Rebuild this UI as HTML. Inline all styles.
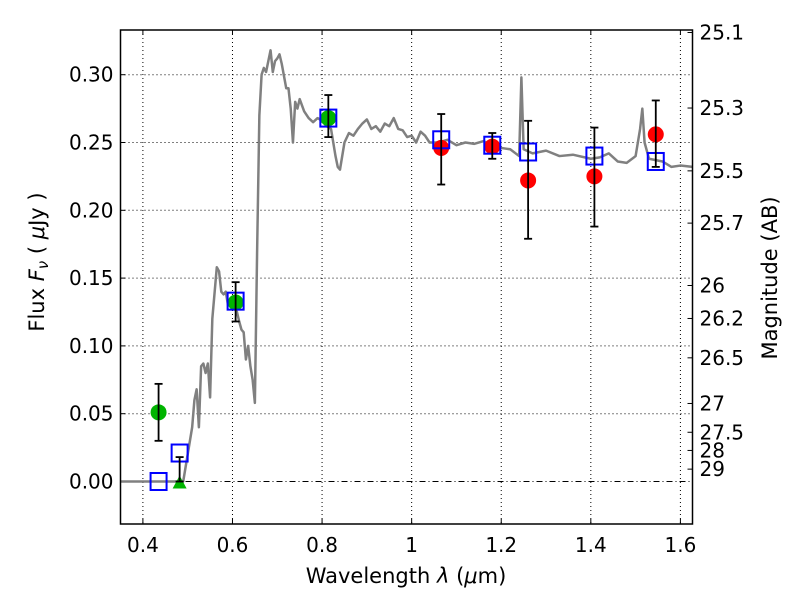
<!DOCTYPE html>
<html><head><meta charset="utf-8"><style>
body{margin:0;background:#fff}
svg text{font-family:"DejaVu Sans","Liberation Sans",sans-serif;fill:#000}
</style></head><body>
<svg id="c" width="800" height="600" viewBox="0 0 800 600" xmlns="http://www.w3.org/2000/svg"></svg>
<script>
const specX=[0.35,0.49,0.50,0.51,0.515,0.52,0.525,0.53,0.535,0.54,0.545,0.55,0.555,0.565,0.57,0.575,0.58,0.585,0.59,0.6,0.61,0.615,0.62,0.625,0.63,0.635,0.64,0.645,0.65,0.655,0.66,0.665,0.67,0.675,0.68,0.685,0.69,0.695,0.70,0.705,0.71,0.72,0.725,0.73,0.735,0.74,0.745,0.75,0.76,0.77,0.78,0.79,0.80,0.81,0.82,0.83,0.835,0.84,0.85,0.86,0.87,0.88,0.89,0.90,0.91,0.92,0.93,0.94,0.95,0.96,0.97,0.98,0.99,1.0,1.01,1.02,1.03,1.04,1.06,1.08,1.1,1.12,1.14,1.16,1.18,1.2,1.22,1.24,1.245,1.25,1.27,1.3,1.33,1.36,1.4,1.42,1.44,1.46,1.48,1.50,1.51,1.515,1.52,1.53,1.56,1.58,1.6,1.627];
const specY=[0,0,0.02,0.04,0.06,0.068,0.04,0.085,0.087,0.08,0.087,0.062,0.12,0.158,0.155,0.14,0.138,0.14,0.13,0.13,0.125,0.118,0.112,0.11,0.09,0.1,0.085,0.075,0.058,0.17,0.27,0.30,0.305,0.302,0.31,0.318,0.302,0.31,0.312,0.315,0.308,0.29,0.29,0.275,0.25,0.28,0.275,0.282,0.273,0.268,0.265,0.268,0.266,0.262,0.26,0.24,0.232,0.23,0.25,0.257,0.255,0.26,0.264,0.267,0.26,0.262,0.258,0.264,0.262,0.268,0.26,0.259,0.254,0.255,0.25,0.258,0.255,0.25,0.25,0.252,0.248,0.25,0.249,0.251,0.248,0.246,0.245,0.24,0.298,0.245,0.242,0.244,0.24,0.241,0.238,0.239,0.242,0.236,0.235,0.24,0.26,0.275,0.25,0.238,0.236,0.232,0.233,0.232];
const greenX=[0.435,0.607,0.814];
const greenY=[0.051,0.132,0.268];
const greenLo=[0.030,0.118,0.254];
const greenHi=[0.072,0.147,0.285];
const triX=[0.482];const triY=[0.0];const triHi=[0.018];
const redX=[1.066,1.18,1.26,1.408,1.545];
const redY=[0.246,0.247,0.222,0.225,0.256];
const redLo=[0.219,0.238,0.179,0.188,0.232];
const redHi=[0.271,0.257,0.266,0.261,0.281];
const sqX=[0.435,0.482,0.607,0.814,1.066,1.18,1.26,1.408,1.545];
const sqY=[0.0,0.021,0.133,0.268,0.252,0.248,0.243,0.240,0.236];
const xTicks=[0.4,0.6,0.8,1.0,1.2,1.4,1.6];
const xTickLabels=["0.4","0.6","0.8","1","1.2","1.4","1.6"];
const yTicks=[0,0.05,0.1,0.15,0.2,0.25,0.3];
const yTickLabels=["0.00","0.05","0.10","0.15","0.20","0.25","0.30"];
const magTicks=[25.1,25.3,25.5,25.7,26,26.2,26.5,27,27.5,28,29];

const L=120.5,R=692.5,T=30,B=524;
const X=v=>L+(v-0.35)/(1.627-0.35)*(R-L);
const Y=v=>481.5-v*1356;
const svg=document.getElementById('c');
const NS='http://www.w3.org/2000/svg';
function mk(t,a,txt){const e=document.createElementNS(NS,t);for(const k in a)e.setAttribute(k,a[k]);if(txt!==undefined)e.textContent=txt;svg.appendChild(e);return e;}

xTicks.forEach((v,i)=>{
 let g=mk('line',{x1:X(v),x2:X(v),y1:T,y2:B,stroke:'#000','stroke-width':1,'stroke-dasharray':'1,3'});
 
 mk('line',{x1:X(v),x2:X(v),y1:B,y2:B-5,stroke:'#000'});
 mk('line',{x1:X(v),x2:X(v),y1:T,y2:T+5,stroke:'#000'});
 let t=mk('text',{x:X(v),y:B+28,'font-size':20,'text-anchor':'middle'},xTickLabels[i]);
 
});
yTicks.forEach((v,i)=>{
 if(v>0){let g=mk('line',{x1:L,x2:R,y1:Y(v),y2:Y(v),stroke:'#000','stroke-width':1,'stroke-dasharray':'1,3'});
 }
 mk('line',{x1:L,x2:L+5,y1:Y(v),y2:Y(v),stroke:'#000'});
 let t=mk('text',{x:L-7,y:Y(v)+7,'font-size':20,'text-anchor':'end'},yTickLabels[i]);
 
});
let z=mk('line',{x1:L,x2:R,y1:Y(0),y2:Y(0),stroke:'#000','stroke-width':1,'stroke-dasharray':'6,3,1,3'});

magTicks.forEach(m=>{
 const y=Y(Math.pow(10,-(m-23.9)/2.5));
 mk('line',{x1:R-5,x2:R,y1:y,y2:y,stroke:'#000'});
 let t=mk('text',{x:R+7,y:y+7,'font-size':20},String(m));
 
});
let p=mk('polyline',{points:specX.map((v,i)=>X(v)+','+Y(specY[i])).join(' '),fill:'none',stroke:'#808080','stroke-width':2.5,'stroke-linejoin':'round'});

function eb(x,lo,hi){mk('line',{x1:X(x),x2:X(x),y1:Y(lo),y2:Y(hi),stroke:'#000','stroke-width':1.8});
 mk('line',{x1:X(x)-4,x2:X(x)+4,y1:Y(lo),y2:Y(lo),stroke:'#000','stroke-width':1.8});
 mk('line',{x1:X(x)-4,x2:X(x)+4,y1:Y(hi),y2:Y(hi),stroke:'#000','stroke-width':1.8});}
greenX.forEach((v,i)=>{let c=mk('circle',{cx:X(v),cy:Y(greenY[i]),r:8,fill:'#00b400'});
 });
redX.forEach((v,i)=>{let c=mk('circle',{cx:X(v),cy:Y(redY[i]),r:8,fill:'#ff0000'});
 });
triX.forEach((v,i)=>{const x=X(v),y=Y(triY[i]);let t=mk('polygon',{points:`${x-7},${y+7} ${x+7},${y+7} ${x},${y-6}`,fill:'#00b400'});
 });
sqX.forEach((v,i)=>{let s=mk('rect',{x:X(v)-8,y:Y(sqY[i])-8.5,width:16,height:17,fill:'none',stroke:'#0000ff','stroke-width':2});
 });
greenX.forEach((v,i)=>eb(v,greenLo[i],greenHi[i]));
redX.forEach((v,i)=>eb(v,redLo[i],redHi[i]));
triX.forEach((v,i)=>eb(v,triY[i],triHi[i]));
let f=mk('rect',{x:L,y:T,width:R-L,height:B-T,fill:'none',stroke:'#000','stroke-width':1.5});

let xl=mk('text',{x:406,y:583,'font-size':21,'text-anchor':'middle','xml:space':'preserve'});
xl.innerHTML='Wavelength  <tspan font-style="italic">λ</tspan> (<tspan font-style="italic">μ</tspan>m)';

let yl=mk('text',{x:44,y:262,'font-size':21,'text-anchor':'middle',transform:'rotate(-90 44 262)','xml:space':'preserve'});
yl.innerHTML='Flux  <tspan font-style="italic">F</tspan><tspan font-style="italic" font-size="15" dy="4">ν</tspan><tspan dy="-4">  ( </tspan><tspan font-style="italic">μ</tspan>Jy )';

let ml=mk('text',{x:777,y:278,'font-size':21,'text-anchor':'middle',transform:'rotate(-90 777 278)'},'Magnitude (AB)');

</script>
</body></html>
